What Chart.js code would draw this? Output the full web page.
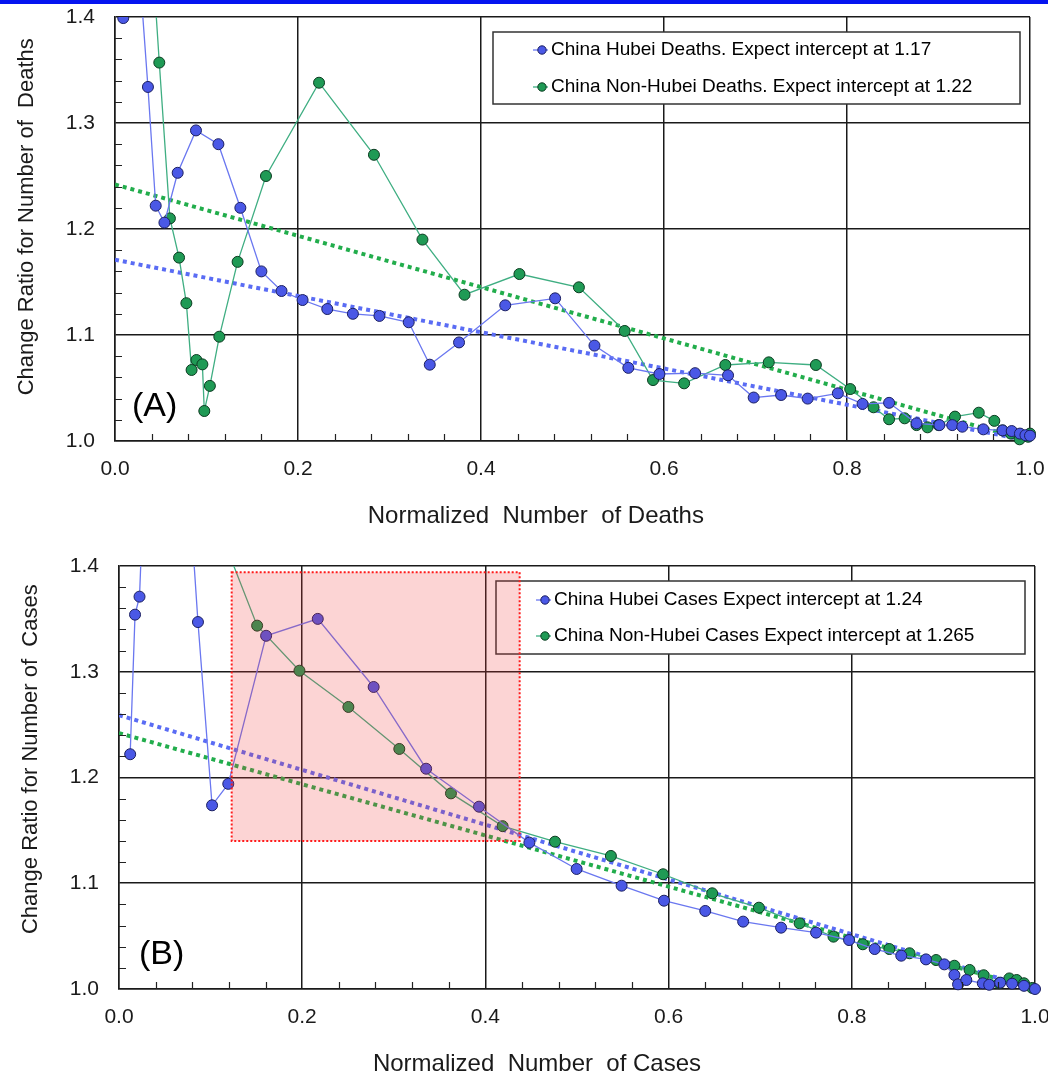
<!DOCTYPE html>
<html>
<head>
<meta charset="utf-8">
<script src="https://cdn.jsdelivr.net/npm/chart.js@4.4.0/dist/chart.umd.min.js"></script>
<style>
  html, body { margin: 0; padding: 0; background: #fff; overflow: hidden; width: 1048px; height: 1073px; }
  #topbar { position: absolute; left: 0; top: 0; width: 1048px; height: 4px; background: #0514f0; z-index: 2; }
  #chartA { position: absolute; left: 0; top: 0; }
  #chartB { position: absolute; left: 0; top: 540px; }
</style>
</head>
<body>
<div id="topbar"></div>
<canvas id="chartA" width="1048" height="540"></canvas>
<canvas id="chartB" width="1048" height="545"></canvas>
<script>
const FONT = "'Liberation Sans', Arial, sans-serif";
const BLUE = "#4a58e6", BLUE_EDGE = "#1b1f60", BLUE_LINE = "#6a77f0", BLUE_TREND = "#5a6cf4";
const GREEN = "#1f9a55", GREEN_EDGE = "#0b3b20", GREEN_LINE = "#3fae82", GREEN_TREND = "#22ad4c";

// (A) deaths
const hubeiDeathsX = [0.009, 0.022, 0.036, 0.0445, 0.054, 0.0685, 0.0885, 0.113, 0.137, 0.160, 0.182, 0.205, 0.232, 0.260, 0.289, 0.321, 0.344, 0.376, 0.4265, 0.481, 0.524, 0.561, 0.595, 0.634, 0.670, 0.698, 0.728, 0.757, 0.790, 0.817, 0.846, 0.876, 0.901, 0.915, 0.926, 0.949, 0.970, 0.980, 0.989, 0.995, 1.0];
const hubeiDeathsY = [1.399, 1.5, 1.334, 1.222, 1.206, 1.253, 1.293, 1.280, 1.220, 1.160, 1.1415, 1.133, 1.1245, 1.120, 1.118, 1.112, 1.072, 1.093, 1.128, 1.1346, 1.090, 1.069, 1.0632, 1.064, 1.062, 1.041, 1.0434, 1.040, 1.045, 1.035, 1.036, 1.0167, 1.015, 1.015, 1.0135, 1.011, 1.010, 1.0094, 1.007, 1.0055, 1.005];
const nonHubeiDeathsX = [0.030, 0.0484, 0.060, 0.070, 0.078, 0.0837, 0.089, 0.0955, 0.0976, 0.1037, 0.114, 0.134, 0.165, 0.223, 0.283, 0.336, 0.382, 0.442, 0.507, 0.557, 0.588, 0.622, 0.667, 0.7145, 0.766, 0.8035, 0.829, 0.846, 0.863, 0.876, 0.888, 0.900, 0.918, 0.944, 0.961, 0.970, 0.979, 0.9886, 0.998, 1.0];
const nonHubeiDeathsY = [1.6, 1.357, 1.210, 1.173, 1.130, 1.067, 1.0764, 1.0723, 1.0283, 1.052, 1.0984, 1.169, 1.250, 1.338, 1.270, 1.190, 1.138, 1.1575, 1.145, 1.1038, 1.0575, 1.0544, 1.0717, 1.0742, 1.0717, 1.049, 1.0318, 1.0205, 1.0214, 1.015, 1.0129, 1.015, 1.023, 1.0267, 1.019, 1.010, 1.007, 1.0016, 1.004, 1.007];
const trendX = [0, 1];
const trendHubeiDeathsY = [1.171, 1.0];
const trendNonHubeiDeathsY = [1.242, 1.0];

// (B) cases
const hubeiCasesX = [0.0122, 0.0175, 0.0224, 0.045, 0.0862, 0.1016, 0.1193, 0.1606, 0.217, 0.278, 0.3353, 0.393, 0.448, 0.4996, 0.5487, 0.595, 0.640, 0.6814, 0.7228, 0.761, 0.797, 0.825, 0.854, 0.881, 0.901, 0.912, 0.916, 0.925, 0.943, 0.950, 0.962, 0.975, 0.988, 1.0];
const hubeiCasesY = [1.222, 1.354, 1.371, 1.88, 1.347, 1.1737, 1.194, 1.334, 1.350, 1.2856, 1.2083, 1.1724, 1.1384, 1.1135, 1.0977, 1.0835, 1.0738, 1.0637, 1.058, 1.0533, 1.0463, 1.0378, 1.0315, 1.028, 1.0233, 1.0133, 1.0044, 1.0085, 1.0054, 1.004, 1.006, 1.005, 1.003, 1.0];
const nonHubeiCasesX = [0.105, 0.1508, 0.197, 0.2504, 0.306, 0.3624, 0.4188, 0.476, 0.537, 0.594, 0.6476, 0.6986, 0.743, 0.780, 0.812, 0.841, 0.863, 0.892, 0.912, 0.9286, 0.944, 0.961, 0.972, 0.980, 0.988, 0.997];
const nonHubeiCasesY = [1.445, 1.3436, 1.301, 1.2667, 1.227, 1.185, 1.154, 1.1393, 1.1258, 1.1085, 1.0905, 1.0769, 1.0621, 1.0495, 1.0423, 1.0378, 1.0338, 1.0274, 1.022, 1.018, 1.013, 1.0054, 1.010, 1.0085, 1.0054, 1.001];
const trendHubeiCasesY = [1.259, 1.0];
const trendNonHubeiCasesY = [1.242, 1.0];
const highlightX = [0.123, 0.4374];
const highlightY = [1.140, 1.394];

const xTicks = [0, 0.2, 0.4, 0.6, 0.8, 1.0];
const yTicks = [1.0, 1.1, 1.2, 1.3, 1.4];

const pairs = (xs, ys) => xs.map((x, i) => ({ x, y: ys[i] }));

function seriesSet(label, xs, ys, fill, edge, line) {
  return {
    label, data: pairs(xs, ys), showLine: true,
    borderColor: line, borderWidth: 1.3,
    pointRadius: 5.5, pointBackgroundColor: fill, pointBorderColor: edge, pointBorderWidth: 1,
    clip: { left: 10, right: 10, top: 0, bottom: 10 }, order: 0
  };
}

function trendSet(ys, color) {
  return {
    label: "", data: pairs(trendX, ys), showLine: true,
    borderColor: color, borderWidth: 4, borderDash: [4, 4],
    pointRadius: 0, clip: 0, order: 2
  };
}

const decor = {
  id: "decor",
  afterDraw(chart, args, o) {
    const ctx = chart.ctx, a = chart.chartArea, xs = chart.scales.x, ys = chart.scales.y;
    ctx.save();
    // minor ticks pointing inward
    ctx.strokeStyle = "#222";
    ctx.lineWidth = 1.2;
    ctx.beginPath();
    for (let i = 1; i < 25; i++) {
      if (i % 5 === 0) continue;
      const px = Math.round(xs.getPixelForValue(i * 0.04)) + 0.5;
      ctx.moveTo(px, a.bottom); ctx.lineTo(px, a.bottom - 7);
    }
    for (let i = 1; i < 20; i++) {
      if (i % 5 === 0) continue;
      const py = Math.round(ys.getPixelForValue(1 + i * 0.02)) + 0.5;
      ctx.moveTo(a.left, py); ctx.lineTo(a.left + 7, py);
    }
    ctx.stroke();

    // legend box
    const L = o.legend;
    const x0 = a.left + L.dx, y0 = a.top + L.dy;
    ctx.fillStyle = "#fff";
    ctx.fillRect(x0, y0, L.w, L.h);
    ctx.strokeStyle = "#333";
    ctx.lineWidth = 1.5;
    ctx.strokeRect(x0, y0, L.w, L.h);
    ctx.font = "19px " + FONT;
    ctx.textBaseline = "middle";
    ctx.textAlign = "left";
    chart.data.datasets.filter(d => d.label).forEach((d, i) => {
      const cy = y0 + L.rows[i];
      ctx.strokeStyle = d.borderColor;
      ctx.lineWidth = 1.3;
      ctx.beginPath(); ctx.moveTo(x0 + 40, cy); ctx.lineTo(x0 + 55, cy); ctx.stroke();
      ctx.beginPath(); ctx.arc(x0 + 49, cy, 4.2, 0, Math.PI * 2);
      ctx.fillStyle = d.pointBackgroundColor; ctx.fill();
      ctx.strokeStyle = d.pointBorderColor; ctx.lineWidth = 1; ctx.stroke();
      ctx.fillStyle = "#000";
      ctx.fillText(d.label, x0 + 58, cy);
    });

    // panel label
    ctx.font = "34px " + FONT;
    ctx.fillStyle = "#000";
    ctx.fillText(o.panel.text, a.left + o.panel.dx, a.top + o.panel.dy);

    // highlighted region
    if (o.box) {
      const bx0 = xs.getPixelForValue(o.box.x[0]), bx1 = xs.getPixelForValue(o.box.x[1]);
      const by0 = ys.getPixelForValue(o.box.y[1]), by1 = ys.getPixelForValue(o.box.y[0]);
      ctx.fillStyle = "rgba(240,60,60,0.22)";
      ctx.fillRect(bx0, by0, bx1 - bx0, by1 - by0);
      ctx.setLineDash([2, 2]);
      ctx.strokeStyle = "#ff1a1a";
      ctx.lineWidth = 2;
      ctx.strokeRect(bx0, by0, bx1 - bx0, by1 - by0);
    }
    ctx.restore();
  }
};

function makeChart(id, p) {
  return new Chart(document.getElementById(id), {
    type: "scatter",
    data: { datasets: p.datasets },
    options: {
      responsive: false,
      animation: false,
      events: [],
      layout: { padding: { top: p.top, right: p.right, left: 0, bottom: 0 } },
      scales: {
        x: {
          type: "linear", min: 0, max: 1,
          afterBuildTicks: s => { s.ticks = xTicks.map(v => ({ value: v })); },
          afterFit: s => { s.height = p.xHeight; s.paddingLeft = 0; s.paddingRight = 0; },
          grid: { color: "#1a1a1a", lineWidth: 1.5, drawTicks: false },
          border: { color: "#1a1a1a", width: 1.5 },
          ticks: { padding: 16, color: "#1a1a1a", font: { family: FONT, size: 21 }, callback: v => v.toFixed(1), maxRotation: 0 },
          title: { display: true, text: p.xTitle, color: "#1a1a1a", font: { family: FONT, size: 24, lineHeight: 1.2 }, padding: { top: 0, bottom: p.xTitlePad } }
        },
        y: {
          type: "linear", min: 1.0, max: 1.4,
          afterBuildTicks: s => { s.ticks = yTicks.map(v => ({ value: v })); },
          afterFit: s => { s.width = p.yWidth; s.paddingTop = 0; s.paddingBottom = 0; },
          grid: { color: "#1a1a1a", lineWidth: 1.5, drawTicks: false },
          border: { color: "#1a1a1a", width: 1.5 },
          ticks: { padding: 20, color: "#1a1a1a", font: { family: FONT, size: 21 }, callback: v => v.toFixed(1) },
          title: { display: true, text: p.yTitle, color: "#1a1a1a", font: { family: FONT, size: 22, lineHeight: 1.2 }, padding: { top: p.yTitlePad, bottom: 0 } }
        }
      },
      plugins: {
        legend: { display: false },
        tooltip: { enabled: false },
        decor: p.decor
      }
    },
    plugins: [decor]
  });
}

makeChart("chartA", {
  top: 17, right: 18, xHeight: 99, yWidth: 115, xTitlePad: 9, yTitlePad: 14,
  xTitle: "Normalized  Number  of Deaths" + " ".repeat(11),
  yTitle: "    Change Ratio for Number of  Deaths",
  datasets: [
    seriesSet("China Hubei Deaths. Expect intercept at 1.17", hubeiDeathsX, hubeiDeathsY, BLUE, BLUE_EDGE, BLUE_LINE),
    seriesSet("China Non-Hubei Deaths. Expect intercept at 1.22", nonHubeiDeathsX, nonHubeiDeathsY, GREEN, GREEN_EDGE, GREEN_LINE),
    trendSet(trendHubeiDeathsY, BLUE_TREND),
    trendSet(trendNonHubeiDeathsY, GREEN_TREND)
  ],
  decor: {
    legend: { dx: 378, dy: 15, w: 527, h: 72, rows: [18, 55] },
    panel: { text: "(A)", dx: 17, dy: 390 }
  }
});

makeChart("chartB", {
  top: 26, right: 13, xHeight: 96, yWidth: 119, xTitlePad: 6, yTitlePad: 18,
  xTitle: "Normalized  Number  of Cases" + " ".repeat(12),
  yTitle: "      Change Ratio for Number of  Cases",
  datasets: [
    seriesSet("China Hubei Cases Expect intercept at 1.24", hubeiCasesX, hubeiCasesY, BLUE, BLUE_EDGE, BLUE_LINE),
    seriesSet("China Non-Hubei Cases Expect intercept at 1.265", nonHubeiCasesX, nonHubeiCasesY, GREEN, GREEN_EDGE, GREEN_LINE),
    trendSet(trendHubeiCasesY, BLUE_TREND),
    trendSet(trendNonHubeiCasesY, GREEN_TREND)
  ],
  decor: {
    legend: { dx: 377, dy: 15, w: 529, h: 73, rows: [19, 55] },
    panel: { text: "(B)", dx: 20, dy: 389 },
    box: { x: highlightX, y: highlightY }
  }
});
</script>
</body>
</html>
